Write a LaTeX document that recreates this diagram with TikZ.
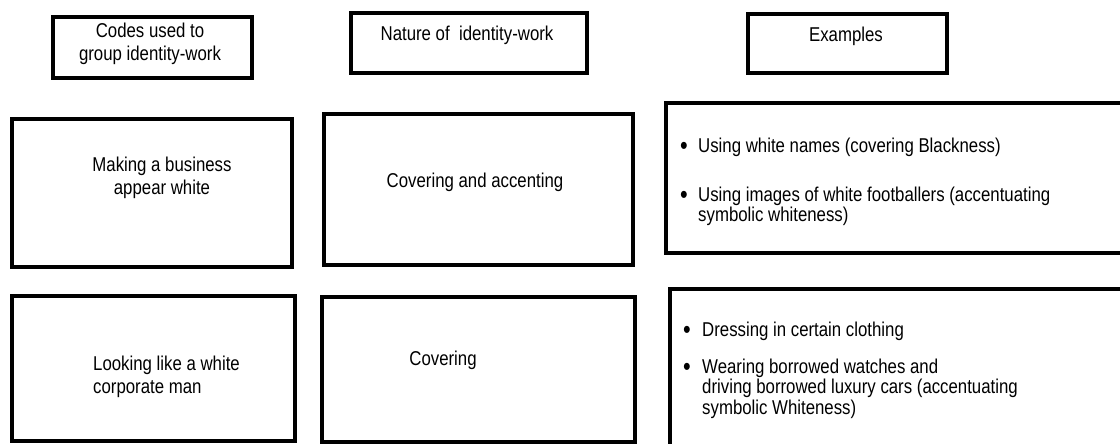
\documentclass[tikz,border=0pt]{standalone}
\usepackage{fontspec}
\setmainfont{Liberation Sans}[FakeStretch=0.84]
\usetikzlibrary{positioning}

\tikzset{
  frame/.style={draw, line width=4.2pt, inner sep=0pt, anchor=north west},
  cell/.style={inner sep=0pt, font=\fontsize{20}{23}\selectfont, align=center, anchor=north},
  itemtext/.style={inner sep=0pt, font=\fontsize{20}{20.5}\selectfont, align=left, anchor=north west},
  dot/.style={inner sep=0pt, font=\fontsize{26}{26}\selectfont, anchor=center}
}

\begin{document}
\begin{tikzpicture}[x=1pt, y=-1pt]
            \useasboundingbox (0,0) rectangle (1120,444);
            \clip (0,0) rectangle (1120,444);
            \node[frame, minimum width=199, minimum height=61] (hcodes) at (51,15) {};
            \node[frame, minimum width=236, minimum height=60] (hnature) at (349,11) {};
            \node[frame, minimum width=199, minimum height=59] (hexamples) at (746,12) {};
            \node[cell] (tcodes) at (150,23) {Codes used to\\group identity-work};
            \node[cell] (tnature) at (467,25.5) {Nature of\ \ identity-work};
            \node[cell] (texamples) at (846,26.5) {Examples};
            \node[frame, minimum width=280, minimum height=148] (codebusiness) at (10,117) {};
            \node[frame, minimum width=309, minimum height=151] (naturebusiness) at (322,112) {};
            \node[frame, minimum width=470, minimum height=150] (exbusiness) at (664,101) {};
            \node[cell] (tcodebusiness) at (162,156.5) {Making a business\\appear white};
            \node[cell] (tnaturebusiness) at (475,172.5) {Covering and accenting};
            \node[dot] (dotnames) at (684,148) {\textbullet};
            \node[itemtext] (tnames) at (698,137.5) {Using white names (covering Blackness)};
            \node[dot] (dotimages) at (684,197) {\textbullet};
            \node[itemtext] (timages) at (698,186.5) {Using images of white footballers (accentuating\\symbolic whiteness)};
            \node[frame, minimum width=283, minimum height=145] (codeman) at (10,294) {};
            \node[frame, minimum width=313, minimum height=145] (natureman) at (320,295) {};
            \node[frame, minimum width=470, minimum height=180] (exman) at (668,287) {};
            \node[itemtext, font=\fontsize{20}{23}\selectfont] (tcodeman) at (93,355.5) {Looking like a white\\corporate man};
            \node[cell] (tnatureman) at (443,350.5) {Covering};
            \node[dot] (dotclothing) at (687,332) {\textbullet};
            \node[itemtext] (tclothing) at (702,321.5) {Dressing in certain clothing};
            \node[dot] (dotwatches) at (687,369) {\textbullet};
            \node[itemtext] (twatches) at (702,358.5) {Wearing borrowed watches and\\driving borrowed luxury cars (accentuating\\symbolic Whiteness)};
        \end{tikzpicture}
\end{document}
